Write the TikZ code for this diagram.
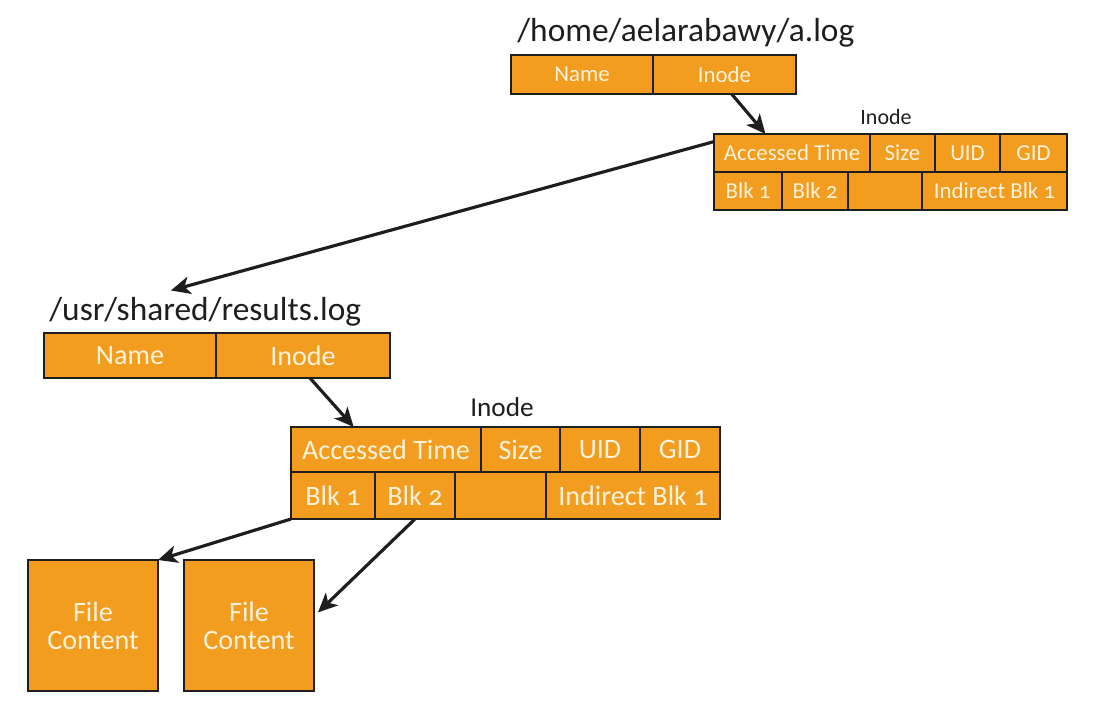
\documentclass[tikz,border=0pt]{standalone}
\usepackage{fontspec}
\setmainfont{Carlito}
\newfontfamily\cellfont[Numbers=OldStyle]{Carlito}
\usetikzlibrary{arrows.meta,calc}
\definecolor{boxorange}{HTML}{F29D1F}
\definecolor{celltext}{HTML}{FFF3DC}
\definecolor{inkgray}{HTML}{1E1E1E}
\tikzset{
  cell/.style={draw=inkgray,line width=1.3pt,fill=boxorange,text=celltext,
    inner sep=0pt,outer sep=0pt,align=center},
  ptr/.style={-{Stealth[length=11pt,width=10pt,inset=3pt]},line width=1.8pt,inkgray},
  path/.style={text=inkgray,inner sep=0pt,anchor=base west,font=\fontsize{19}{19}\selectfont},
  lbl/.style={text=inkgray,inner sep=0pt}
}
\def\Cell#1#2#3#4#5#6{\node[cell,minimum width={(#4-#2)*0.02cm},minimum height={(#5-#3)*0.02cm}]
  (#1) at ({(#2+#4)/2},{(#3+#5)/2}) {#6};}

\begin{document}
\begin{tikzpicture}[x=0.02cm,y=-0.02cm]
  \useasboundingbox[fill=white] (0,0) rectangle (1112,717);
  % first directory entry and its inode
  \node[path] (p1) at (517,41) {/home/aelarabawy/a.log};
  \begin{scope}[font=\cellfont\fontsize{13}{13}\selectfont]
    \Cell{d1n}{511}{55}{653}{94}{Name}
    \Cell{d1i}{653}{55}{796}{94}{Inode}
    \Cell{a1}{714}{134}{870}{172}{Accessed Time}
    \Cell{a2}{870}{134}{935}{172}{Size}
    \Cell{a3}{935}{134}{1000}{172}{UID}
    \Cell{a4}{1000}{134}{1067}{172}{GID}
    \Cell{a5}{714}{172}{782}{210}{Blk 1}
    \Cell{a6}{782}{172}{848}{210}{Blk 2}
    \Cell{a7}{848}{172}{922}{210}{}
    \Cell{a8}{922}{172}{1067}{210}{Indirect Blk 1}
  \end{scope}
  \node[lbl,font=\fontsize{12.5}{12.5}\selectfont] (n1) at (886,117) {Inode};
  % second directory entry and its inode
  \node[path] (p2) at (49,320) {/usr/shared/results.log};
  \begin{scope}[font=\cellfont\fontsize{16}{16}\selectfont]
    \Cell{d2n}{44}{333}{216}{378}{Name}
    \Cell{d2i}{216}{333}{390}{378}{Inode}
    \Cell{b1}{291}{427}{481}{472}{Accessed Time}
    \Cell{b2}{481}{427}{560}{472}{Size}
    \Cell{b3}{560}{427}{640}{472}{UID}
    \Cell{b4}{640}{427}{720}{472}{GID}
    \Cell{b5}{291}{472}{375}{519}{Blk 1}
    \Cell{b6}{375}{472}{455}{519}{Blk 2}
    \Cell{b7}{455}{472}{546}{519}{}
    \Cell{b8}{546}{472}{720}{519}{Indirect Blk 1}
    \Cell{f1}{28}{560}{158}{691}{File\\Content}
    \Cell{f2}{184}{560}{314}{691}{File\\Content}
  \end{scope}
  \node[lbl,font=\fontsize{15.5}{15.5}\selectfont] (n2) at (502,407) {Inode};
  % pointers
  \draw[ptr] ($(d1i.south west)!.55!(d1i.south east)$) -- ($(a1.north west)!.33!(a1.north east)$);
  \draw[ptr] ($(a1.north west)!.2!(a1.south west)$) -- ($(p2.north west)!.39!(p2.north east)+(0,-6)$);
  \draw[ptr] ($(d2i.south west)!.54!(d2i.south east)$) -- ($(b1.north west)!.33!(b1.north east)$);
  \draw[ptr] (b5.south west) -- (f1.north east);
  \draw[ptr] (b6.south) -- ($(f2.north east)!.4!(f2.south east)+(4,0)$);
\end{tikzpicture}
\end{document}
